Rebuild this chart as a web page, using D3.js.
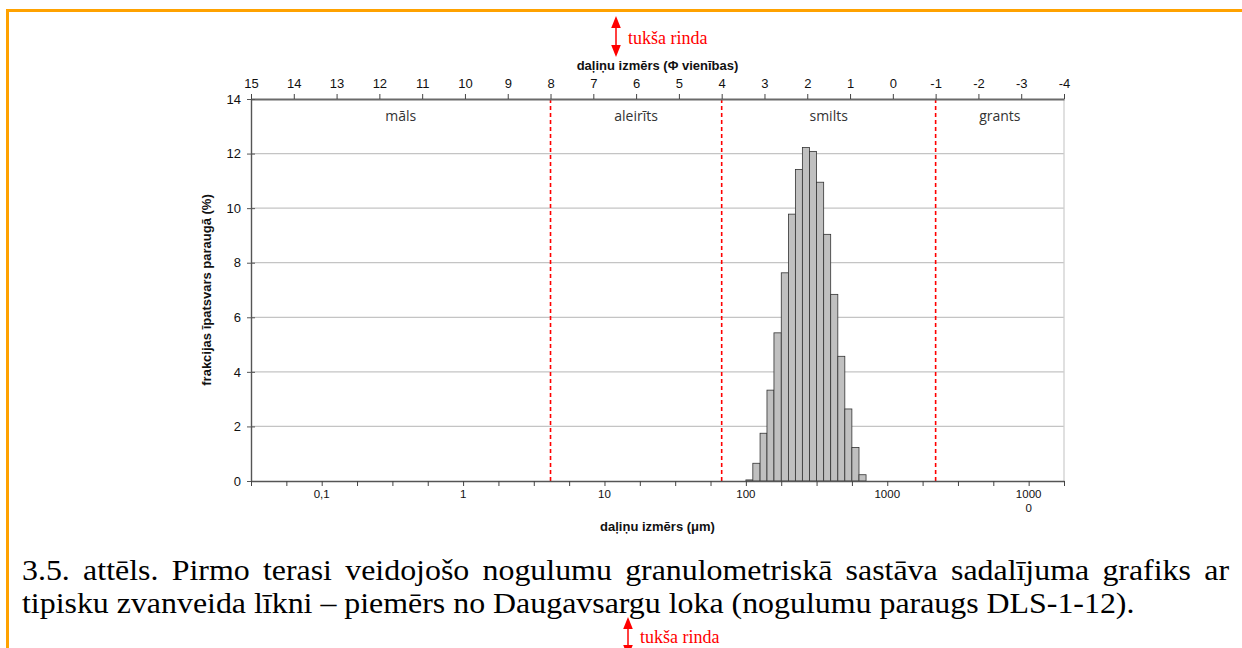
<!DOCTYPE html>
<html lang="lv">
<head>
<meta charset="UTF-8">
<title>Granulometriskais sastāvs</title>
<style>
    body { margin: 0; background: #fff; }
    svg { display: block; }
    .ax text { font-family: "Liberation Sans", Arial, sans-serif; font-size: 13px; fill: #111; }
    .title { font-family: "Liberation Sans", Arial, sans-serif; font-size: 13px; font-weight: bold; fill: #111; }
    .zone { font-family: "Open Sans", "Liberation Sans", sans-serif; font-size: 14px; fill: #333; }
    .caption { font-family: "Liberation Serif", "Times New Roman", serif; font-size: 29px; fill: #000; }
    .note { font-family: "Liberation Serif", "Times New Roman", serif; font-size: 18px; fill: #f00; }
</style>
</head>
<body>
<svg id="chart" width="1242" height="648"></svg>
<script src="https://d3js.org/d3.v7.min.js"></script>
<script>
    // phi tick labels on the top axis
    const phiTicks = [15, 14, 13, 12, 11, 10, 9, 8, 7, 6, 5, 4, 3, 2, 1, 0, -1, -2, -3, -4];
    // size class boundaries (phi) and names
    const zoneBounds = [15, 8, 4, -1, -4];
    const zoneNames = ["māls", "aleirīts", "smilts", "grants"];
    // bottom axis labels (µm)
    const umLabelValues = [0.1, 1, 10, 100, 1000, 10000];
    const umLabels = [["0,1"], ["1"], ["10"], ["100"], ["1000"], ["1000", "0"]];
    // histogram bin edges (µm) and fraction in each bin (%)
    const binEdges = [100, 112, 126, 141, 158, 178, 200, 224, 251, 282, 316, 355, 398, 447, 501, 562, 631, 708];
    const fraction = [0.04, 0.65, 1.75, 3.33, 5.43, 7.63, 9.78, 11.42, 12.22, 12.08, 10.95, 9.04, 6.84, 4.57, 2.64, 1.23, 0.23];
    const yTicks = [0, 2, 4, 6, 8, 10, 12, 14];

    const plotL = 251, plotR = 1064, plotT = 99, plotB = 481;
    const svg = d3.select("#chart");

    // orange frame
    svg.append("path")
        .attr("d", "M1242,10.5 L7.5,10.5 L7.5,648")
        .attr("fill", "none").attr("stroke", "#ffa200").attr("stroke-width", 3);

    const xPhi = d3.scaleLinear().domain([15, -4]).range([plotL, plotR]);
    const xUm = d3.scaleLog().domain([Math.pow(10, -1.5), Math.pow(10, 4.25)]).range([plotL, plotR]);
    const y = d3.scaleLinear().domain([0, 14]).range([plotB, plotT]);

    // gridlines
    svg.append("g").selectAll("line")
        .data(yTicks.filter(d => d > 0 && d < 14))
        .join("line")
        .attr("x1", plotL).attr("x2", plotR)
        .attr("y1", d => y(d)).attr("y2", d => y(d))
        .attr("stroke", "#c4c4c4").attr("stroke-width", 1.3);

    // right border
    svg.append("line")
        .attr("x1", plotR).attr("x2", plotR).attr("y1", plotT).attr("y2", plotB)
        .attr("stroke", "#cfcfcf").attr("stroke-width", 1.3);

    // bars
    svg.append("g").selectAll("rect")
        .data(fraction)
        .join("rect")
        .attr("x", (d, i) => xUm(binEdges[i]))
        .attr("width", (d, i) => xUm(binEdges[i + 1]) - xUm(binEdges[i]))
        .attr("y", d => y(d))
        .attr("height", d => y(0) - y(d))
        .attr("fill", "#c0c0c0")
        .attr("stroke", "#333").attr("stroke-width", 0.8);

    // class boundaries
    svg.append("g").selectAll("line")
        .data(zoneBounds.slice(1, 4))
        .join("line")
        .attr("x1", d => xPhi(d)).attr("x2", d => xPhi(d))
        .attr("y1", plotT).attr("y2", plotB)
        .attr("stroke", "#ff0000").attr("stroke-width", 1.6)
        .attr("stroke-dasharray", "4,3");

    svg.append("g").selectAll("text")
        .data(zoneNames)
        .join("text")
        .attr("class", "zone")
        .attr("x", (d, i) => (xPhi(zoneBounds[i]) + xPhi(zoneBounds[i + 1])) / 2)
        .attr("y", 121)
        .attr("text-anchor", "middle")
        .text(d => d);

    // top axis (phi)
    const topAxis = svg.append("g").attr("class", "ax")
        .attr("transform", `translate(0,${plotT})`)
        .call(d3.axisTop(xPhi).tickValues(phiTicks).tickSize(5).tickSizeOuter(0).tickPadding(6)
            .tickFormat(d => String(d).replace("−", "-")));
    topAxis.select(".domain").attr("stroke", "#6a6a6a").attr("stroke-width", 2.2);
    topAxis.selectAll(".tick line").attr("stroke", "#444");

    // left axis
    const leftAxis = svg.append("g").attr("class", "ax")
        .attr("transform", `translate(${plotL},0)`)
        .call(d3.axisLeft(y).tickValues(yTicks).tickSize(4).tickSizeOuter(0).tickPadding(6));
    leftAxis.select(".domain").attr("stroke", "#555").attr("stroke-width", 1.4);
    leftAxis.selectAll(".tick line").attr("x2", 4).attr("x1", -4).attr("stroke", "#555");

    // bottom axis (µm, log)
    const umTicks = d3.range(0, 24).map(k => Math.pow(10, -1.5 + k / 4));
    const bottomAxis = svg.append("g").attr("class", "ax")
        .attr("transform", `translate(0,${plotB})`)
        .call(d3.axisBottom(xUm).tickValues(umTicks).tickSize(5).tickSizeOuter(0).tickFormat(""));
    bottomAxis.select(".domain").attr("stroke", "#555").attr("stroke-width", 1.6);
    bottomAxis.selectAll(".tick line").attr("stroke", "#444");

    const lab = svg.append("g").attr("class", "ax").selectAll("text")
        .data(umLabelValues)
        .join("text")
        .attr("x", d => xUm(d))
        .attr("y", 498)
        .attr("text-anchor", "middle")
        .style("font-size", "11.5px");
    lab.selectAll("tspan")
        .data((d, i) => umLabels[i])
        .join("tspan")
        .attr("x", function () { return this.parentNode.getAttribute("x"); })
        .attr("dy", (d, j) => j === 0 ? 0 : 14)
        .text(d => d);

    // axis titles
    svg.append("text").attr("class", "title")
        .attr("x", (plotL + plotR) / 2).attr("y", 70)
        .attr("text-anchor", "middle")
        .text("daļiņu izmērs (Φ vienības)");
    svg.append("text").attr("class", "title")
        .attr("x", (plotL + plotR) / 2).attr("y", 531)
        .attr("text-anchor", "middle")
        .text("daļiņu izmērs (μm)");
    svg.append("text").attr("class", "title")
        .attr("transform", `translate(211,${(plotT + plotB) / 2}) rotate(-90)`)
        .attr("text-anchor", "middle")
        .text("frakcijas īpatsvars paraugā (%)");

    // caption: glyphs a little wide like the scan, first line justified
    const capScale = 1.1;
    const cap = svg.append("g").attr("transform", `translate(22,0) scale(${capScale},1)`);
    const line1 = cap.append("text").attr("class", "caption")
        .attr("x", 0).attr("y", 580)
        .text("3.5. attēls. Pirmo terasi veidojošo nogulumu granulometriskā sastāva sadalījuma grafiks ar");
    const natural = line1.node().getComputedTextLength();
    const spaces = line1.text().split(" ").length - 1;
    line1.attr("word-spacing", ((1229 - 22) / capScale - natural) / spaces);
    cap.append("text").attr("class", "caption")
        .attr("x", 0).attr("y", 613)
        .text("tipisku zvanveida līkni – piemērs no Daugavsargu loka (nogulumu paraugs DLS-1-12).");

    // red "empty line" notes
    svg.append("defs").append("marker")
        .attr("id", "head").attr("viewBox", "0 0 10 10")
        .attr("refX", 5).attr("refY", 5)
        .attr("markerWidth", 8).attr("markerHeight", 8)
        .attr("orient", "auto-start-reverse")
        .append("path").attr("d", "M0,1 L10,5 L0,9 Z").attr("fill", "#f00");

    function note(x, y1, y2, ty) {
        svg.append("line")
            .attr("x1", x).attr("x2", x).attr("y1", y1).attr("y2", y2)
            .attr("stroke", "#f00").attr("stroke-width", 1.5)
            .attr("marker-start", "url(#head)").attr("marker-end", "url(#head)");
        svg.append("text").attr("class", "note")
            .attr("x", x + 12).attr("y", ty)
            .text("tukša rinda");
    }
    note(616, 22, 51, 44);
    note(628, 623, 651, 643);
</script>
</body>
</html>
